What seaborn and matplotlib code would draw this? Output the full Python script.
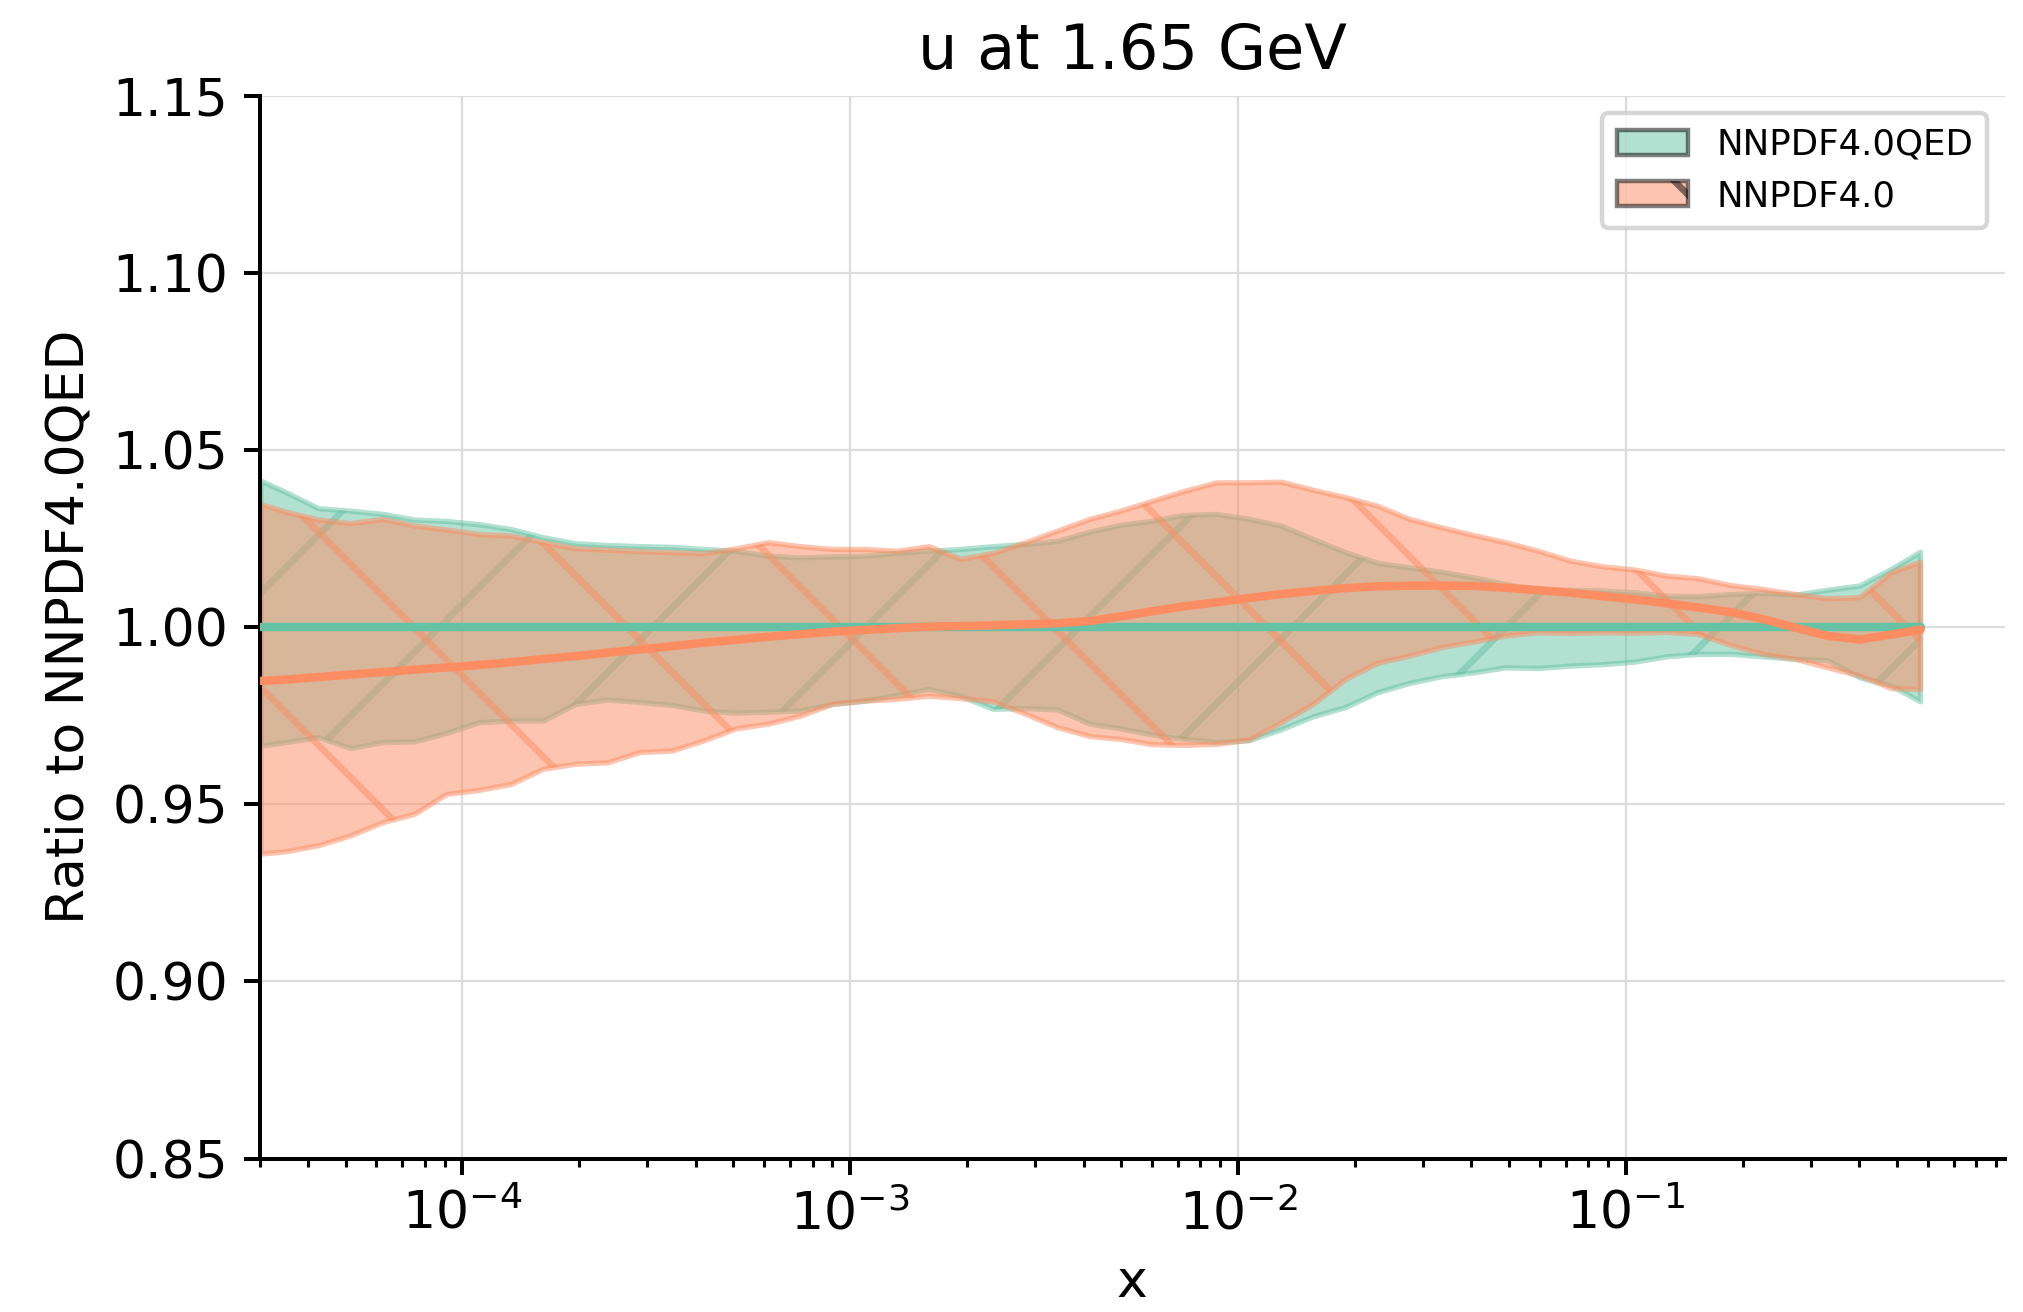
import numpy as np
import pandas as pd
import matplotlib
matplotlib.use("Agg")
import matplotlib.pyplot as plt
import matplotlib.patches as mpatches
import seaborn as sns

# --- data: ratio to NNPDF4.0QED for the u PDF at 1.65 GeV ---
log10_x = [-4.519, -4.453, -4.370, -4.287, -4.204, -4.122, -4.039, -3.956, -3.873,
           -3.790, -3.707, -3.624, -3.541, -3.459, -3.376, -3.293, -3.210, -3.127,
           -3.044, -2.961, -2.878, -2.796, -2.713, -2.630, -2.547, -2.464, -2.381,
           -2.302, -2.220, -2.137, -2.054, -1.971, -1.888, -1.805, -1.722, -1.639,
           -1.557, -1.474, -1.391, -1.308, -1.225, -1.142, -1.059, -0.977, -0.894,
           -0.811, -0.728, -0.645, -0.562, -0.479, -0.396, -0.314, -0.240]

qed_up = [1.0412, 1.0379, 1.0334, 1.0327, 1.0318, 1.0302, 1.0298, 1.0289, 1.0275,
          1.0252, 1.0235, 1.0230, 1.0227, 1.0225, 1.0219, 1.0214, 1.0200, 1.0195,
          1.0198, 1.0200, 1.0208, 1.0214, 1.0219, 1.0227, 1.0233, 1.0242, 1.0268,
          1.0287, 1.0299, 1.0315, 1.0318, 1.0304, 1.0285, 1.0247, 1.0210, 1.0180,
          1.0167, 1.0155, 1.0139, 1.0120, 1.0104, 1.0104, 1.0102, 1.0097, 1.0087,
          1.0086, 1.0092, 1.0095, 1.0090, 1.0104, 1.0116, 1.0163, 1.0211]
qed_lo = [0.9664, 0.9674, 0.9688, 0.9657, 0.9674, 0.9676, 0.9700, 0.9730, 0.9735,
          0.9735, 0.9782, 0.9794, 0.9787, 0.9779, 0.9763, 0.9757, 0.9760, 0.9763,
          0.9782, 0.9791, 0.9807, 0.9824, 0.9804, 0.9768, 0.9770, 0.9766, 0.9726,
          0.9713, 0.9695, 0.9683, 0.9674, 0.9679, 0.9710, 0.9747, 0.9773, 0.9815,
          0.9841, 0.9860, 0.9871, 0.9885, 0.9883, 0.9890, 0.9894, 0.9901, 0.9916,
          0.9923, 0.9923, 0.9916, 0.9909, 0.9905, 0.9857, 0.9834, 0.9789]
qed_mid = [1.0] * len(log10_x)  # ratio of the reference set to itself

nn_up = [1.0346, 1.0324, 1.0302, 1.0292, 1.0304, 1.0285, 1.0274, 1.0261, 1.0257,
         1.0238, 1.0221, 1.0217, 1.0213, 1.0210, 1.0207, 1.0221, 1.0238, 1.0227,
         1.0219, 1.0219, 1.0214, 1.0227, 1.0191, 1.0208, 1.0238, 1.0271, 1.0304,
         1.0327, 1.0355, 1.0383, 1.0407, 1.0407, 1.0409, 1.0386, 1.0365, 1.0341,
         1.0304, 1.0280, 1.0258, 1.0238, 1.0214, 1.0186, 1.0170, 1.0161, 1.0144,
         1.0136, 1.0117, 1.0106, 1.0092, 1.0080, 1.0083, 1.0153, 1.0183]
nn_lo = [0.9359, 0.9366, 0.9383, 0.9411, 0.9448, 0.9472, 0.9528, 0.9539, 0.9556,
         0.9599, 0.9613, 0.9617, 0.9646, 0.9650, 0.9679, 0.9713, 0.9726, 0.9749,
         0.9782, 0.9791, 0.9796, 0.9805, 0.9798, 0.9789, 0.9754, 0.9716, 0.9691,
         0.9683, 0.9668, 0.9666, 0.9669, 0.9681, 0.9730, 0.9782, 0.9852, 0.9898,
         0.9918, 0.9942, 0.9958, 0.9975, 0.9984, 0.9982, 0.9984, 0.9983, 0.9985,
         0.9979, 0.9948, 0.9923, 0.9909, 0.9885, 0.9862, 0.9826, 0.9824]
nn_mid = [0.9848, 0.9852, 0.9859, 0.9866, 0.9873, 0.9880, 0.9886, 0.9893, 0.9901,
          0.9910, 0.9918, 0.9928, 0.9937, 0.9946, 0.9956, 0.9964, 0.9973, 0.9980,
          0.9987, 0.9992, 0.9997, 1.0001, 1.0003, 1.0005, 1.0008, 1.0011, 1.0017,
          1.0030, 1.0045, 1.0059, 1.0070, 1.0082, 1.0093, 1.0102, 1.0110, 1.0115,
          1.0117, 1.0117, 1.0116, 1.0111, 1.0104, 1.0097, 1.0087, 1.0078, 1.0067,
          1.0055, 1.0042, 1.0022, 0.9998, 0.9975, 0.9965, 0.9979, 0.9993]

pdf_labels = ["NNPDF4.0QED", "NNPDF4.0"]
y_ticks = [0.85, 0.90, 0.95, 1.00, 1.05, 1.10, 1.15]

x = 10 ** np.array(log10_x)

# drawn at 640 dpi so the hatching comes out coarse; k rescales point sizes
# that were tuned on a 320 dpi canvas
DPI = 640
k = 320 / DPI

# --- style ---
sns.set_theme(style="ticks")
plt.rcParams["font.family"] = ["DejaVu Sans"]
plt.rcParams.update({
    "hatch.linewidth": 1.5 * k,
    "text.color": "black",
    "axes.labelcolor": "black",
    "xtick.color": "black",
    "ytick.color": "black",
    "axes.titlepad": 6 * k,
    "axes.labelpad": 4 * k,
    "xtick.major.pad": 3.5 * k,
    "ytick.major.pad": 3.5 * k,
    "xtick.minor.pad": 3.4 * k,
})

colors = sns.color_palette("Set2")[:2]
c_qed, c_nn = colors

fig = plt.figure(figsize=(2023 / DPI, 1312 / DPI), dpi=DPI)
ax = fig.add_axes([0.1283, 0.1169, 0.8628, 0.8103])
ax.set_xscale("log")

# --- uncertainty bands ---
ax.fill_between(x, qed_lo, qed_up, color=c_qed, alpha=0.5, hatch="/",
                linewidth=1.2 * k, zorder=2)
ax.fill_between(x, nn_lo, nn_up, color=c_nn, alpha=0.5, hatch="\\",
                linewidth=1.2 * k, zorder=2)

# --- central values ---
df = pd.DataFrame({
    "x": np.concatenate([x, x]),
    "ratio": np.concatenate([qed_mid, nn_mid]),
    "pdf": [pdf_labels[0]] * len(x) + [pdf_labels[1]] * len(x),
})
sns.lineplot(data=df, x="x", y="ratio", hue="pdf", palette=colors,
             linewidth=1.9 * k, legend=False, ax=ax, zorder=3)

# --- axes ---
ax.set_xlim(3e-5, 0.95)
ax.set_ylim(0.85, 1.15)
ax.set_yticks(y_ticks)
ax.set_yticklabels([f"{t:.2f}" for t in y_ticks])
ax.set_xlabel("x", fontsize=11.7 * k)
ax.set_ylabel("Ratio to NNPDF4.0QED", fontsize=11.7 * k)
ax.set_title("u at 1.65 GeV", fontsize=14 * k)

ax.grid(True, which="major", color="#dddddd", linewidth=0.5 * k)
ax.set_axisbelow(True)
sns.despine(ax=ax)
for s in ["left", "bottom"]:
    ax.spines[s].set_color("black")
    ax.spines[s].set_linewidth(0.9 * k)
ax.tick_params(axis="both", which="major", direction="out", length=3.5 * k,
               width=0.9 * k, color="black", labelsize=11.7 * k,
               labelcolor="black")
ax.tick_params(axis="both", which="minor", direction="out", length=1.8 * k,
               width=0.7 * k, color="black", labelsize=11.7 * k)

handles = [
    mpatches.Patch(facecolor=c_qed, edgecolor="black", alpha=0.5, hatch="/",
                   linewidth=1.0 * k, label=pdf_labels[0]),
    mpatches.Patch(facecolor=c_nn, edgecolor="black", alpha=0.5, hatch="\\",
                   linewidth=1.0 * k, label=pdf_labels[1]),
]
leg = ax.legend(handles=handles, loc="upper right", fontsize=8 * k,
                frameon=True, fancybox=True, framealpha=0.8,
                edgecolor="#cccccc")
leg.get_frame().set_linewidth(1.0 * k)

fig.savefig("out.png", dpi=DPI)
